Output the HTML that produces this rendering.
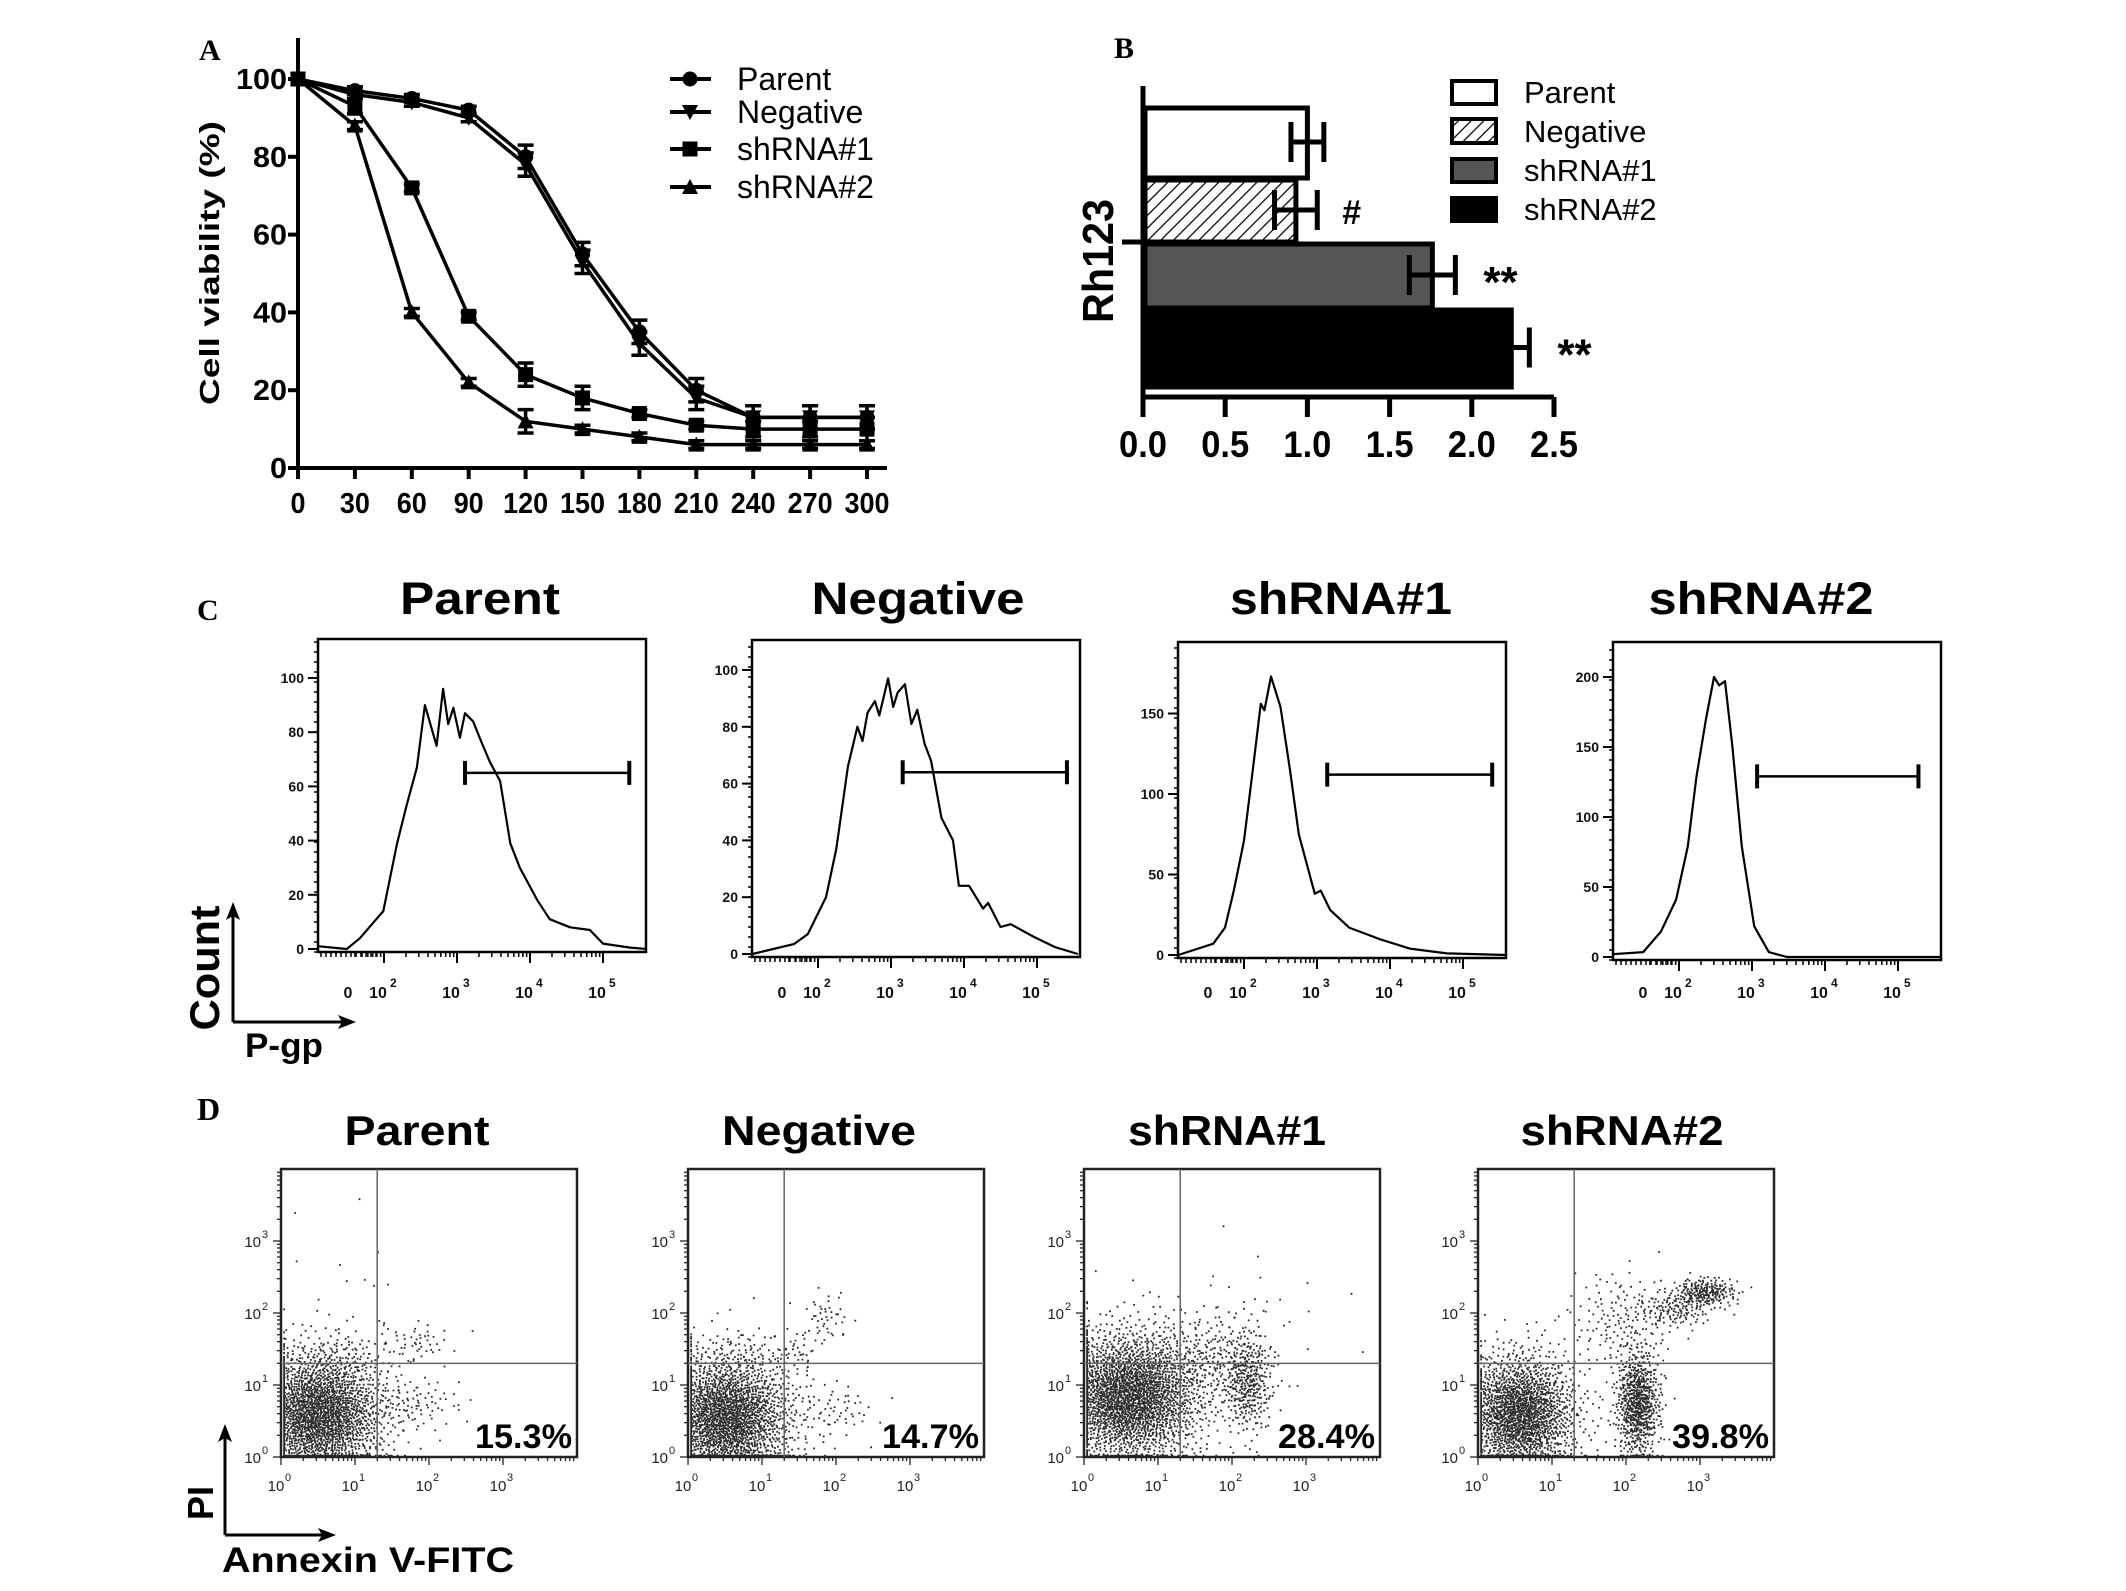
<!DOCTYPE html>
<html><head><meta charset="utf-8"><style>
html,body{margin:0;padding:0;background:#fff;}
svg{display:block;font-family:"Liberation Sans",Arial,sans-serif;}
</style></head><body>
<svg id="fig" width="2126" height="1591" viewBox="0 0 2126 1591" xmlns="http://www.w3.org/2000/svg">
<rect width="2126" height="1591" fill="#fff"/>
<g id="root"></g>
</svg>
<script>
// ---------- Panel A data ----------
const timeA = [0,30,60,90,120,150,180,210,240,270,300];
const parentA = [100,97,95,92,80,55,35,20,13,13,13];
const negativeA = [100,96,94,90,78,53,32,18,13,13,13];
const sh1A = [100,93,72,39,24,18,14,11,10,10,10];
const sh2A = [100,88,40,22,12,10,8,6,6,6,6];
const parentErrA = [0,1,1,1,3,3,3,3,3,3,3];
const negativeErrA = [0,1,1,1,3,3,3,3,3,3,3];
const sh1ErrA = [0,2,1,1,3,3,1,1,2,2,3];
const sh2ErrA = [0,1,1,1,3,1,1,1,1,1,1];
const yTicksA = [0,20,40,60,80,100];
const seriesNamesA = ["Parent","Negative","shRNA#1","shRNA#2"];
// ---------- Panel B data ----------
const groupsB = ["Parent","Negative","shRNA#1","shRNA#2"];
const valuesB = [1.0,0.93,1.76,2.24];
const errB = [0.1,0.13,0.14,0.11];
const sigB = ["","#","**","**"];
const xTicksB = [0.0,0.5,1.0,1.5,2.0,2.5];
// ---------- Panel C data (decade position, count) ----------
const titlesC = ["Parent","Negative","shRNA#1","shRNA#2"];
const histParentD = [1.11,1.49,1.67,1.99,2.18,2.31,2.45,2.56,2.72,2.81,2.88,2.95,3.04,3.11,3.22,3.34,3.45,3.59,3.73,3.86,4.1,4.27,4.55,4.82,5.0,5.37,5.59];
const histParentC = [1,0,4,14,39,53,67,90,75,96,83,89,78,87,84,76,69,62,39,30,18,11,8,7,2,0.5,0];
const histNegD = [1.1,1.67,1.86,2.11,2.25,2.41,2.54,2.61,2.68,2.78,2.84,2.96,3.03,3.09,3.19,3.28,3.36,3.46,3.55,3.69,3.85,3.93,4.07,4.26,4.33,4.5,4.64,4.96,5.24,5.56];
const histNegC = [0,3.5,7,20,37,66,80,75,85,89,84,97,87,92,95,81,86,74,68,48,40,24,24,16,18,9.5,10.5,6,2.5,0];
const histSh1D = [1.1,1.58,1.74,1.86,2.0,2.12,2.23,2.28,2.37,2.5,2.63,2.75,2.97,3.05,3.18,3.44,3.85,4.27,4.78,5.6];
const histSh1C = [0,7,17,40,71,115,156,152,173,154,115,75,38,40,28,17,10,4,1,0];
const histSh2D = [1.09,1.51,1.75,1.96,2.12,2.24,2.37,2.48,2.55,2.63,2.73,2.86,3.03,3.23,3.48,5.6];
const histSh2C = [2,3.5,18,41,79,129,170,200,194,197,151,79,22,3.5,0,0];
const gateC = [[3.11,5.36,65],[3.16,5.41,64],[3.14,5.4,112],[3.07,5.28,129]];
const yTickC = [[0,20,40,60,80,100],[0,20,40,60,80,100],[0,50,100,150],[0,50,100,150,200]];
// ---------- Panel D data: clusters [cx, cy, sx, sy, n] in decades ----------
const titlesD = ["Parent","Negative","shRNA#1","shRNA#2"];
const percentD = ["15.3%","14.7%","28.4%","39.8%"];
const clustersParent = [[0.5,0.6,0.45,0.45,2300],[1.85,1.6,0.22,0.14,45],[1.8,0.75,0.33,0.18,80],[0.9,2.4,0.45,0.6,16],[0.9,1.4,0.4,0.15,60]];
const clustersNeg = [[0.5,0.55,0.45,0.45,2300],[1.45,1.45,0.15,0.15,30],[1.85,1.95,0.15,0.18,45],[2.0,0.65,0.28,0.2,55],[0.8,1.45,0.4,0.15,50]];
const clustersSh1 = [[0.6,0.85,0.5,0.45,2600],[2.2,1.05,0.17,0.35,350],[1.7,1.4,0.4,0.3,200],[1.9,1.9,0.8,0.5,45]];
const clustersSh2 = [[0.55,0.6,0.38,0.42,1900],[2.15,0.75,0.15,0.38,700],[2.65,2.05,0.25,0.12,130],[3.05,2.3,0.22,0.1,220],[1.9,1.9,0.35,0.35,150]];

const NS="http://www.w3.org/2000/svg";
const root=document.getElementById('root');
function mk(tag,attrs,parent){const e=document.createElementNS(NS,tag);for(const k in attrs)e.setAttribute(k,attrs[k]);(parent||root).appendChild(e);return e;}
function txt(s,attrs,parent){const e=mk('text',attrs,parent);e.textContent=s;return e;}

// ================= Panel A =================
const gA=mk('g',{});


const xA=v=>298+v*(867-298)/300;
const yA=v=>468-v*(468-79)/100;
let t=txt('A',{x:199,y:60,'font-family':'Liberation Serif,serif','font-weight':'bold','font-size':30},gA);


let ax=mk('path',{d:`M298 38 V468 H887`,stroke:'#000','stroke-width':4,fill:'none'},gA);


yTicksA.forEach(v=>{
  mk('line',{x1:288,x2:298,y1:yA(v),y2:yA(v),stroke:'#000','stroke-width':4},gA);
  const s=String(v);
  const l=txt(s,{x:287,y:yA(v)+10,'text-anchor':'end','font-weight':'bold','font-size':29,textLength:s.length*17,lengthAdjust:'spacingAndGlyphs'},gA);
  
  
});
timeA.forEach(v=>{
  mk('line',{x1:xA(v),x2:xA(v),y1:468,y2:479,stroke:'#000','stroke-width':4},gA);
  const s=String(v);
  const l=txt(s,{x:xA(v),y:513,'text-anchor':'middle','font-weight':'bold','font-size':29,textLength:s.length*15,lengthAdjust:'spacingAndGlyphs'},gA);
  
  
});
t=txt('Cell viability  (%)',{x:0,y:0,transform:'translate(219,263) rotate(-90)','text-anchor':'middle','font-weight':'bold','font-size':28,textLength:284,lengthAdjust:'spacingAndGlyphs'},gA);


function marker(type,x,y,g){
  if(type===0) return mk('circle',{cx:x,cy:y,r:7.5,fill:'#000'},g);
  if(type===1) return mk('path',{d:`M${x-8} ${y-7} H${x+8} L${x} ${y+8} Z`,fill:'#000'},g);
  if(type===2) return mk('rect',{x:x-7.5,y:y-7.5,width:15,height:15,fill:'#000'},g);
  return mk('path',{d:`M${x-8} ${y+7} H${x+8} L${x} ${y-8} Z`,fill:'#000'},g);
}
const seriesA=[parentA,negativeA,sh1A,sh2A];
const errsA=[parentErrA,negativeErrA,sh1ErrA,sh2ErrA];
seriesA.forEach((ser,si)=>{
  const g=mk('g',{},gA);
  
  
  const d=ser.map((v,i)=>(i?'L':'M')+xA(timeA[i])+' '+yA(v)).join(' ');
  mk('path',{d:d,stroke:'#000','stroke-width':3.5,fill:'none'},g);
  ser.forEach((v,i)=>{
    const e=errsA[si][i];
    if(e>0){
      const x=xA(timeA[i]);
      mk('path',{d:`M${x} ${yA(v+e)} V${yA(v-e)} M${x-8} ${yA(v+e)} H${x+8} M${x-8} ${yA(v-e)} H${x+8}`,stroke:'#000','stroke-width':3.5,fill:'none'},g);
    }
    const m=marker(si,xA(timeA[i]),yA(v),g);
    
    
  });
});
const legRowsA=[79,112,149,187];
seriesNamesA.forEach((n,i)=>{
  const g=mk('g',{},gA);
  
  
  mk('line',{x1:670,x2:711,y1:legRowsA[i],y2:legRowsA[i],stroke:'#000','stroke-width':4},g);
  marker(i,690,legRowsA[i],g);
  txt(n,{x:737,y:legRowsA[i]+11,'font-size':32},g);
});

// ================= Panel B =================
const gB=mk('g',{});


const xB=v=>1143+v*(1554-1143)/2.5;
const bandTop=[106,178,242,308], bandBot=[178,242,308,387];
t=txt('B',{x:1114,y:58,'font-family':'Liberation Serif,serif','font-weight':'bold','font-size':30},gB);


const defs=mk('defs',{},gB);
const pat=mk('pattern',{id:'hatch',width:9,height:9,patternUnits:'userSpaceOnUse',patternTransform:'rotate(45)'},defs);
mk('rect',{width:9,height:9,fill:'#fff'},pat);
mk('line',{x1:0,y1:0,x2:0,y2:9,stroke:'#000','stroke-width':2.5},pat);
const fillsB=['#fff','url(#hatch)','#555','#000'];
valuesB.forEach((v,i)=>{
  const r=mk('rect',{x:1145,y:bandTop[i]+2,width:xB(v)-1145,height:bandBot[i]-bandTop[i]-2,fill:fillsB[i],stroke:'#000','stroke-width':5},gB);
  
  
});
valuesB.forEach((v,i)=>{
  const cy=(bandTop[i]+bandBot[i])/2;
  const lo=xB(v-errB[i]), hi=xB(v+errB[i]);
  const eb=mk('path',{d:(i===3?`M${xB(v)} ${cy} H${hi}`:`M${lo} ${cy} H${hi} M${lo} ${cy-20} V${cy+20}`)+` M${hi} ${cy-20} V${cy+20}`,stroke:'#000','stroke-width':5,fill:'none'},gB);
  
  
  if(sigB[i]){
    const s=txt(sigB[i],{x:hi+(i===1?25:28),y:cy+(i===1?14:22),'font-weight':'bold','font-size':sigB[i]==='#'?34:44},gB);
    
    
  }
});
ax=mk('path',{d:`M1143 86 V397 H1554 M1122 242 H1143`,stroke:'#000','stroke-width':5,fill:'none'},gB);


xTicksB.forEach(v=>{
  mk('line',{x1:xB(v),x2:xB(v),y1:397,y2:417,stroke:'#000','stroke-width':5},gB);
  const l=txt(v.toFixed(1),{x:xB(v),y:457,'text-anchor':'middle','font-weight':'bold','font-size':37,textLength:48,lengthAdjust:'spacingAndGlyphs'},gB);
  
  
});
t=txt('Rh123',{x:0,y:0,transform:'translate(1113,261) rotate(-90)','text-anchor':'middle','font-weight':'bold','font-size':44,textLength:124,lengthAdjust:'spacingAndGlyphs'},gB);


const legRowsB=[[79,106],[117,145],[157,184],[196,223]];
groupsB.forEach((n,i)=>{
  const g=mk('g',{},gB);
  
  
  mk('rect',{x:1452,y:legRowsB[i][0]+2,width:44,height:legRowsB[i][1]-legRowsB[i][0]-4,fill:fillsB[i],stroke:'#000','stroke-width':4},g);
  txt(n,{x:1524,y:legRowsB[i][1]-3,'font-size':31},g);
});

// ================= Panel C =================
const gC=mk('g',{});


t=txt('C',{x:197,y:620,'font-family':'Liberation Serif,serif','font-weight':'bold','font-size':30},gC);


const boxC=[[318,639,952,2.71,480,160],[752,640,957,2.84,918,213],[1178,642,958,1.61,1341,222],[1613,642,960,1.4,1761,225]];
const histD=[histParentD,histNegD,histSh1D,histSh2D];
const histC=[histParentC,histNegC,histSh1C,histSh2C];
boxC.forEach((b,pi)=>{
  const [x0,top,bot,unit,tcx,tw]=b;
  const g=mk('g',{},gC);
  
  
  const zero=bot-3;
  const xd=d=>x0+66+(d-2)*73;
  const yc=c=>zero-c*unit;
  const tt=txt(titlesC[pi],{x:tcx,y:614,'text-anchor':'middle','font-weight':'bold','font-size':45,textLength:tw,lengthAdjust:'spacingAndGlyphs'},g);
  
  
  mk('rect',{x:x0,y:top,width:328,height:bot-top,fill:'none',stroke:'#000','stroke-width':2.5},g);
  for(let yy=bot;yy>top;yy-=10) mk('line',{x1:x0-4,x2:x0,y1:yy,y2:yy,stroke:'#000','stroke-width':1.5},g);
  yTickC[pi].forEach(v=>{
    mk('line',{x1:x0-10,x2:x0,y1:yc(v),y2:yc(v),stroke:'#000','stroke-width':2},g);
    const l=txt(String(v),{x:x0-14,y:yc(v)+5,'text-anchor':'end','font-weight':'bold','font-size':14,fill:'#111'},g);
    
    
  });
  [2,3,4,5].forEach(d=>{
    mk('line',{x1:xd(d),x2:xd(d),y1:bot,y2:bot+11,stroke:'#000','stroke-width':2},g);
    for(let k=2;k<10;k++){const xx=xd(d-1+Math.log10(k));if(xx>x0+30)mk('line',{x1:xx,x2:xx,y1:bot,y2:bot+5,stroke:'#000','stroke-width':1.5},g);}
    const l=txt('10',{x:xd(d)-6,y:998,'text-anchor':'middle','font-weight':'bold','font-size':16,fill:'#111'},g);
    
    
    txt(String(d),{x:xd(d)+6,y:987,'font-weight':'bold','font-size':12,fill:'#111'},g);
  });
  for(let xx=x0+3;xx<x0+60;xx+=5) mk('line',{x1:xx,x2:xx,y1:bot,y2:bot+5,stroke:'#000','stroke-width':1.5},g);
  txt('0',{x:x0+30,y:998,'text-anchor':'middle','font-weight':'bold','font-size':16,fill:'#111'},g);
  const dpts=histD[pi].map((d,i)=>(i?'L':'M')+xd(d).toFixed(1)+' '+yc(histC[pi][i]).toFixed(1)).join(' ');
  const cur=mk('path',{d:dpts,stroke:'#000','stroke-width':2.2,fill:'none','stroke-linejoin':'round'},g);
  
  
  const [g1,g2,gc]=gateC[pi];
  const gate=mk('path',{d:`M${xd(g1)} ${yc(gc)} H${xd(g2)}`,stroke:'#000','stroke-width':2.5,fill:'none'},g);
  
  
  mk('path',{d:`M${xd(g1)} ${yc(gc)-12} V${yc(gc)+12} M${xd(g2)} ${yc(gc)-12} V${yc(gc)+12}`,stroke:'#000','stroke-width':4},g);
});
const arrC=mk('path',{d:'M233 1022 V910 M233 1022 H348',stroke:'#000','stroke-width':3,fill:'none'},gC);


mk('path',{d:'M233 902 L226 920 L233 916 L240 920 Z',fill:'#000'},gC);
mk('path',{d:'M356 1022 L338 1015 L342 1022 L338 1029 Z',fill:'#000'},gC);
t=txt('Count',{x:0,y:0,transform:'translate(219,968) rotate(-90)','text-anchor':'middle','font-weight':'bold','font-size':42,textLength:125,lengthAdjust:'spacingAndGlyphs'},gC);


t=txt('P-gp',{x:245,y:1057,'font-weight':'bold','font-size':34,textLength:78,lengthAdjust:'spacingAndGlyphs'},gC);



// ================= Panel D =================
const gD=mk('g',{});


t=txt('D',{x:197,y:1120,'font-family':'Liberation Serif,serif','font-weight':'bold','font-size':32},gD);


const boxD=[[281,417,145],[688,819,194],[1084,1227,198],[1478,1622,203]];
const clustersD=[clustersParent,clustersNeg,clustersSh1,clustersSh2];
function halton(i,b){let f=1,r=0;while(i>0){f/=b;r+=f*(i%b);i=Math.floor(i/b);}return r;}
let hIdx=1;
boxD.forEach((b,pi)=>{
  const [x0,tcx,tw]=b;
  const top=1169,bot=1457,w=296,h=288;
  const g=mk('g',{},gD);
  
  
  const xd=d=>x0+d*w/4, yd=d=>bot-d*h/4;
  const tt=txt(titlesD[pi],{x:tcx,y:1145,'text-anchor':'middle','font-weight':'bold','font-size':42,textLength:tw,lengthAdjust:'spacingAndGlyphs'},g);
  
  
  let dots='';
  clustersD[pi].forEach(c=>{
    const [cx,cy,sx,sy,n]=c;
    for(let k=0;k<n;k++){
      const u1=Math.max(1e-6,halton(hIdx,2)),u2=halton(hIdx,3);hIdx++;
      const rr=Math.sqrt(-2*Math.log(u1));
      let px=cx+sx*rr*Math.cos(2*Math.PI*u2), py=cy+sy*rr*Math.sin(2*Math.PI*u2);
      px=Math.min(3.98,Math.max(0.03,px)); py=Math.min(3.98,Math.max(0.03,py));
      dots+=`M${xd(px).toFixed(1)} ${yd(py).toFixed(1)}h1.8v1.8h-1.8z`;
    }
  });
  const dp=mk('path',{d:dots,fill:'#2a2a2a'},g);
  
  
  mk('rect',{x:x0,y:top,width:w,height:h,fill:'none',stroke:'#222','stroke-width':2.5},g);
  const q=mk('path',{d:`M${xd(1.3)} ${top} V${bot} M${x0} ${yd(1.3)} H${x0+w}`,stroke:'#666','stroke-width':1.5,fill:'none'},g);
  
  
  [0,1,2,3].forEach(d=>{
    for(let k=1;k<10;k++){const o=Math.log10(k);const len=k===1?8:4;
      mk('line',{x1:xd(d+o),x2:xd(d+o),y1:bot,y2:bot+len,stroke:'#222','stroke-width':1.3},g);
      mk('line',{x1:x0-len,x2:x0,y1:yd(d+o),y2:yd(d+o),stroke:'#222','stroke-width':1.3},g);}
    const lx=txt('10',{x:xd(d)-5,y:1491,'text-anchor':'middle','font-size':15,fill:'#222'},g);
    
    
    txt(String(d),{x:xd(d)+4,y:1481,'font-size':11,fill:'#222'},g);
    const ly=txt('10',{x:x0-20,y:yd(d)+6,'text-anchor':'end','font-size':15,fill:'#222'},g);
    
    
    txt(String(d),{x:x0-19,y:yd(d)-3,'font-size':11,fill:'#222'},g);
  });
  const p=txt(percentD[pi],{x:x0+w-5,y:bot-9,'text-anchor':'end','font-weight':'bold','font-size':34,textLength:97,lengthAdjust:'spacingAndGlyphs'},g);
  
  
});
const arrD=mk('path',{d:'M225 1535 V1432 M225 1535 H328',stroke:'#000','stroke-width':3,fill:'none'},gD);


mk('path',{d:'M225 1424 L218 1442 L225 1438 L232 1442 Z',fill:'#000'},gD);
mk('path',{d:'M336 1535 L318 1528 L322 1535 L318 1542 Z',fill:'#000'},gD);
t=txt('PI',{x:0,y:0,transform:'translate(213,1503) rotate(-90)','text-anchor':'middle','font-weight':'bold','font-size':36},gD);


t=txt('Annexin V-FITC',{x:222,y:1572,'font-weight':'bold','font-size':35,textLength:292,lengthAdjust:'spacingAndGlyphs'},gD);


</script>
</body></html>
